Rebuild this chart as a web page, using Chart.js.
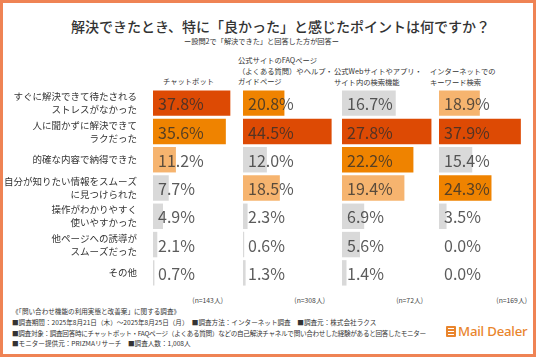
<!DOCTYPE html>
<html><head><meta charset="utf-8">
<script src="https://cdn.jsdelivr.net/npm/chart.js@4"></script>
<style>
html,body{margin:0;padding:0;background:#fff;}
#wrap{position:relative;width:536px;height:357px;box-sizing:border-box;border:3px solid #EF8354;background:#fff;overflow:hidden;font-family:"Noto Sans CJK JP","Noto Sans",sans-serif;color:#333;}
.abs{position:absolute;white-space:nowrap;}
.cv{position:absolute;}
.hd{font-size:7.3px;line-height:10.5px;color:#333;}
.ft{font-size:6.6px;line-height:9px;color:#333;left:9px;}
.n{font-size:6.8px;color:#444;}
</style></head>
<body>
<div id="wrap">
  <div class="abs" id="title" style="left:68px;top:13px;font-size:14px;line-height:20px;font-weight:500;">解決できたとき、特に「良かった」と感じたポイントは何ですか？</div>
  <div class="abs" style="left:181px;top:33px;font-size:7.2px;line-height:10px;">ー設問2で「解決できた」と回答した方が回答ー</div>

  <div class="abs hd" style="left:160px;top:73px;">チャットボット</div>
  <div class="abs hd" style="left:235px;top:52px;">公式サイトのFAQページ<br>（よくある質問）やヘルプ・<br>ガイドページ</div>
  <div class="abs hd" style="left:331px;top:63px;">公式Webサイトやアプリ・<br>サイト内の検索機能</div>
  <div class="abs hd" style="left:427px;top:63px;">インターネットでの<br>キーワード検索</div>

  <canvas id="c1" class="cv" width="242" height="201" style="left:-3px;top:83px;"></canvas>
  <canvas id="c2" class="cv" width="92" height="201" style="left:240px;top:83px;"></canvas>
  <canvas id="c3" class="cv" width="92" height="201" style="left:339px;top:83px;"></canvas>
  <canvas id="c4" class="cv" width="92" height="201" style="left:436px;top:83px;"></canvas>

  <div class="abs n" style="right:310px;top:292px;">(n=143人)</div>
  <div class="abs n" style="right:208px;top:292px;">(n=308人)</div>
  <div class="abs n" style="right:110px;top:292px;">(n=72人)</div>
  <div class="abs n" style="right:6px;top:292px;">(n=169人)</div>

  <div class="abs ft" style="top:304px;">《「問い合わせ機能の利用実態と改善案」に関する調査》</div>
  <div class="abs ft" style="top:315px;">■調査期間：2025年8月21日（木）～2025年8月25日（月）　■調査方法：インターネット調査　■調査元：株式会社ラクス</div>
  <div class="abs ft" style="top:325.5px;letter-spacing:-0.3px;">■調査対象：調査回答時にチャットボット・FAQページ（よくある質問）などの自己解決チャネルで問い合わせした経験があると回答したモニター</div>
  <div class="abs ft" style="top:336px;">■モニター提供元：PRIZMAリサーチ　■調査人数：1,008人</div>

  <div class="abs" style="left:443px;top:323px;width:10px;height:11px;background:#E9852D;border-radius:1px;"></div>
  <div class="abs" style="left:445px;top:325px;width:6px;height:1px;background:#fff;"></div>
  <div class="abs" style="left:445px;top:328px;width:6px;height:1px;background:#fff;"></div>
  <div class="abs" style="left:445px;top:331px;width:6px;height:1px;background:#fff;"></div>
  <div class="abs" style="left:455px;top:319px;font-size:13.2px;line-height:18px;color:#E9852D;font-family:'Noto Sans',sans-serif;font-weight:500;letter-spacing:-0.2px;">Mail Dealer</div>
</div>
<script>
const categories = [
  ["すぐに解決できて待たされる","ストレスがなかった"],
  ["人に聞かずに解決できて","ラクだった"],
  "的確な内容で納得できた",
  ["自分が知りたい情報をスムーズ","に見つけられた"],
  ["操作がわかりやすく","使いやすかった"],
  ["他ページへの誘導が","スムーズだった"],
  "その他"
];
const chatbot  = [37.8, 35.6, 11.2, 7.7, 4.9, 2.1, 0.7];
const faqPage  = [20.8, 44.5, 12.0, 18.5, 2.3, 0.6, 1.3];
const siteSearch = [16.7, 27.8, 22.2, 19.4, 6.9, 5.6, 1.4];
const webSearch  = [18.9, 37.9, 15.4, 24.3, 3.5, 0.0, 0.0];

const rankColors = ['#DD4A04', '#EF8300', '#F6B46F'];
const otherColor = '#D9D9D9';
function colorsFor(vals){
  const sorted = [...vals].sort((a,b)=>b-a);
  return vals.map(v => { const r = sorted.indexOf(v); return r < 3 ? rankColors[r] : otherColor; });
}

const valueLabels = {
  id:'valueLabels',
  afterDatasetsDraw(chart){
    const ctx = chart.ctx;
    const meta = chart.getDatasetMeta(0);
    const data = chart.data.datasets[0].data;
    ctx.save();
    ctx.font = '16px "Noto Sans CJK JP", "Noto Sans", sans-serif';
    ctx.fillStyle = 'rgba(45,45,45,0.78)';
    ctx.textBaseline = 'middle';
    ctx.textAlign = 'left';
    meta.data.forEach((bar,i)=>{
      ctx.fillText(data[i].toFixed(1)+'%', bar.base + 5, bar.y + 1);
    });
    ctx.restore();
  }
};

function makeChart(id, vals, max, showY){
  new Chart(document.getElementById(id), {
    type:'bar',
    data:{ labels: categories, datasets:[{ data: vals, backgroundColor: colorsFor(vals), borderWidth:0, barPercentage:0.9, categoryPercentage:1 }]},
    options:{
      indexAxis:'y', responsive:false, animation:false, devicePixelRatio:1,
      layout:{ padding:{top:3,bottom:0,left:0,right:0} },
      plugins:{ legend:{display:false}, tooltip:{enabled:false} },
      scales:{
        x:{ display:false, min:0, max:max },
        y:{ display:showY, grid:{display:false}, border:{display:false},
            afterFit: s => { if (showY) { s.width = 153; s.paddingTop = 0; s.paddingBottom = 0; } },
            ticks:{ autoSkip:false, padding:8, color:'#333', font:{ size:9.5, lineHeight:1.37, family:'"Noto Sans CJK JP", sans-serif' } } }
      }
    },
    plugins:[valueLabels]
  });
}
makeChart('c1', chatbot, 43.5, true);
makeChart('c2', faqPage, 46.2, false);
makeChart('c3', siteSearch, 28.6, false);
makeChart('c4', webSearch, 42.6, false);
</script>
</body></html>
